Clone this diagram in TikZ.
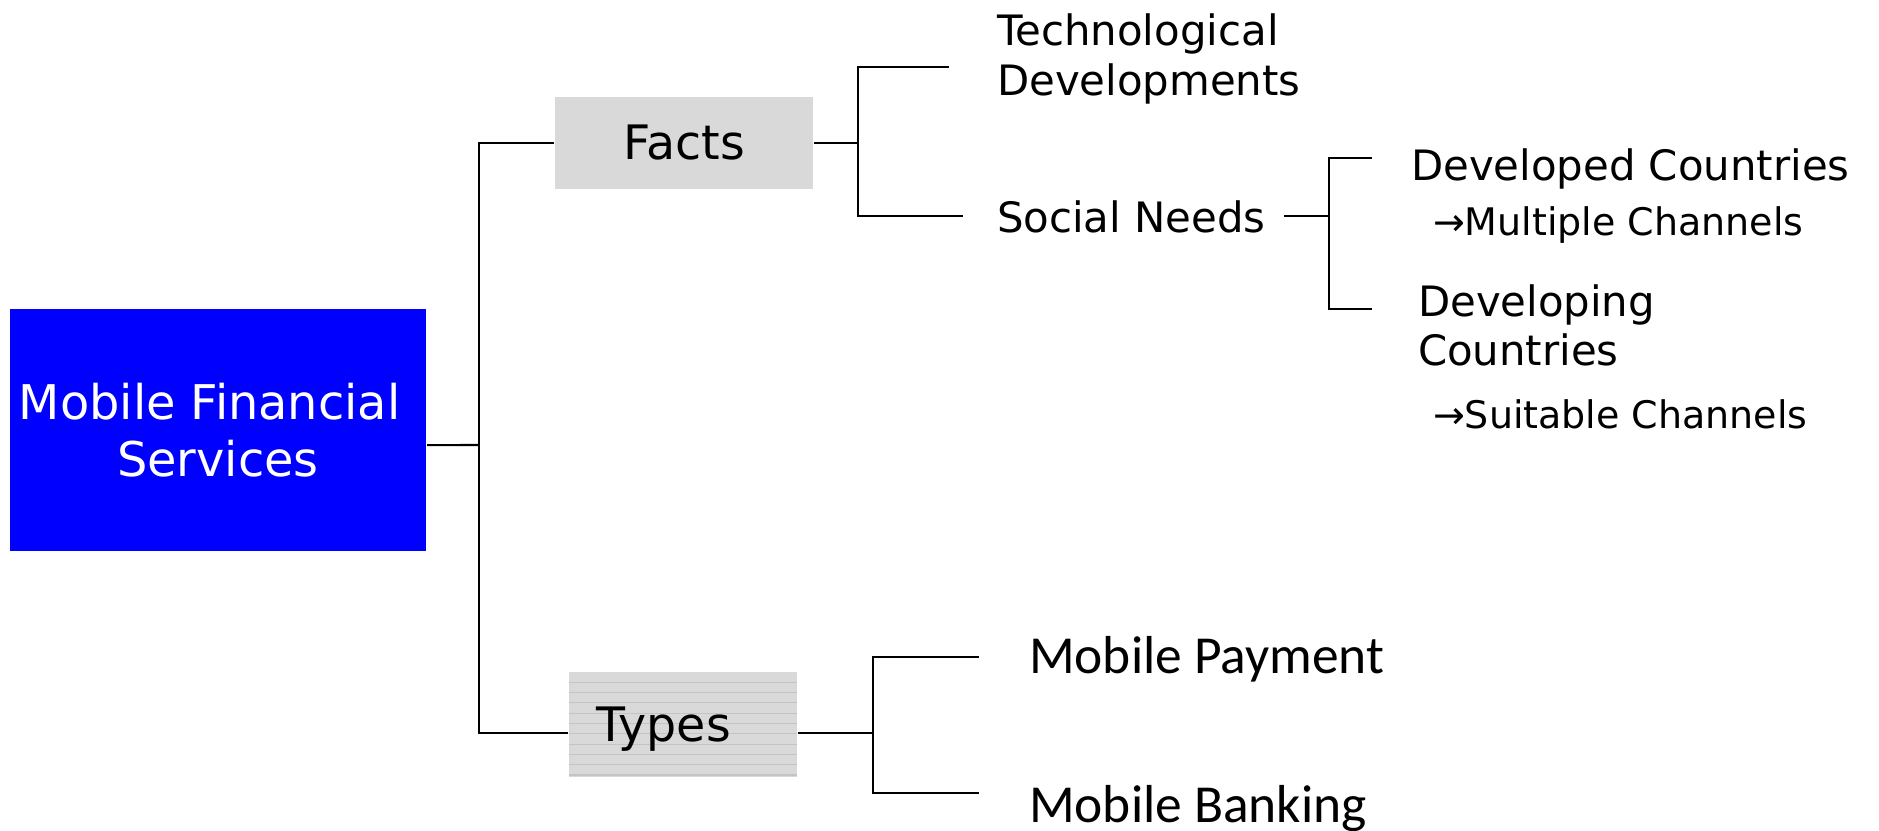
\documentclass[tikz,border=0pt]{standalone}
\usepackage{fontspec}
\setmainfont{DejaVu Sans}
\newfontfamily\carlito{Carlito}
\usetikzlibrary{positioning}
\definecolor{mblue}{rgb}{0, 0, 1}
\definecolor{mgray}{rgb}{0.85, 0.85, 0.85}
\definecolor{mhatch}{rgb}{0.77, 0.77, 0.77}

\begin{document}
\begin{tikzpicture}[x=0.01cm, y=-0.01cm, line width=0.6pt,
    mfsbox/.style={fill=mblue, text=white, minimum width=4.16cm, minimum height=2.42cm,
      inner xsep=0, align=center, font=\fontsize{13.6}{16.2}\selectfont},
    factsbox/.style={fill=mgray, minimum width=2.58cm, minimum height=0.92cm,
      font=\fontsize{13.5}{15}\selectfont},
    typesbox/.style={fill=mgray, minimum width=2.28cm, minimum height=1.05cm,
      inner xsep=0.28cm, text width=1.72cm, align=left, text depth=0pt,
      font=\fontsize{13.5}{15}\selectfont,
      path picture={\foreach \k in {1,...,10}
        \draw [mhatch, line width=0.3pt] ([yshift=-\k*2.93pt]path picture bounding box.north west)
          -- ([yshift=-\k*2.93pt]path picture bounding box.north east);}},
    lbl/.style={inner sep=0, anchor=base west, align=left, font=\fontsize{11.9}{14.2}\selectfont},
    sublbl/.style={inner sep=0, anchor=base west, font=\fontsize{10.8}{12.6}\selectfont},
    typelbl/.style={inner sep=0, anchor=base west, font=\carlito\fontsize{15.2}{18}\selectfont}]
      \useasboundingbox (0, 0) rectangle (1879, 830);

      \node [mfsbox] (mfs) at (218, 430) {Mobile Financial\rule{0.35em}{0pt}\\Services};
      \node [factsbox] (facts) at (684, 143) {Facts};
      \node [typesbox] (types) at (683, 724.5) {Types};

      \node [lbl] (tech) at (996, 95) {Technological\\Developments};
      \node [lbl] (social) at (996, 232) {Social Needs};

      \node [lbl] (devd) at (1410, 180) {Developed Countries};
      \node [sublbl] (multi) at (1432, 235) {→Multiple Channels};
      \node [lbl, font=\fontsize{11.9}{13.7}\selectfont] (devg) at (1417, 365) {Developing\\Countries};
      \node [sublbl] (suit) at (1432, 428) {→Suitable Channels};

      \node [typelbl] (pay) at (1028, 673) {Mobile Payment};
      \node [typelbl] (bank) at (1028, 822) {Mobile Banking};

      \coordinate (trunk) at (479, 445);
      \draw ([yshift=-4.3pt]mfs.east) -- (trunk);
      \draw (facts.west) -| (trunk) |- ([yshift=-2.3pt]types.west);

      \path (facts.east) ++(44, 0) coordinate (factsfork);
      \coordinate (techend) at (949, 67);
      \draw (facts.east) -- (factsfork);
      \draw (techend) -| (factsfork) |- ([xshift=-9.4pt]social.west);

      \path (social.east) ++(62, 0) coordinate (socfork);
      \coordinate (devdend) at (1372, 158);
      \coordinate (devgend) at (1372, 309);
      \draw ([xshift=4.8pt]social.east) -- (socfork);
      \draw (devdend) -| (socfork) |- (devgend);

      \path ([yshift=-2.3pt]types.east) ++(75, 0) coordinate (typesfork);
      \coordinate (payend) at (979, 657);
      \coordinate (bankend) at (979, 793);
      \draw ([yshift=-2.3pt]types.east) -- (typesfork);
      \draw (payend) -| (typesfork) |- (bankend);
    \end{tikzpicture}
\end{document}
